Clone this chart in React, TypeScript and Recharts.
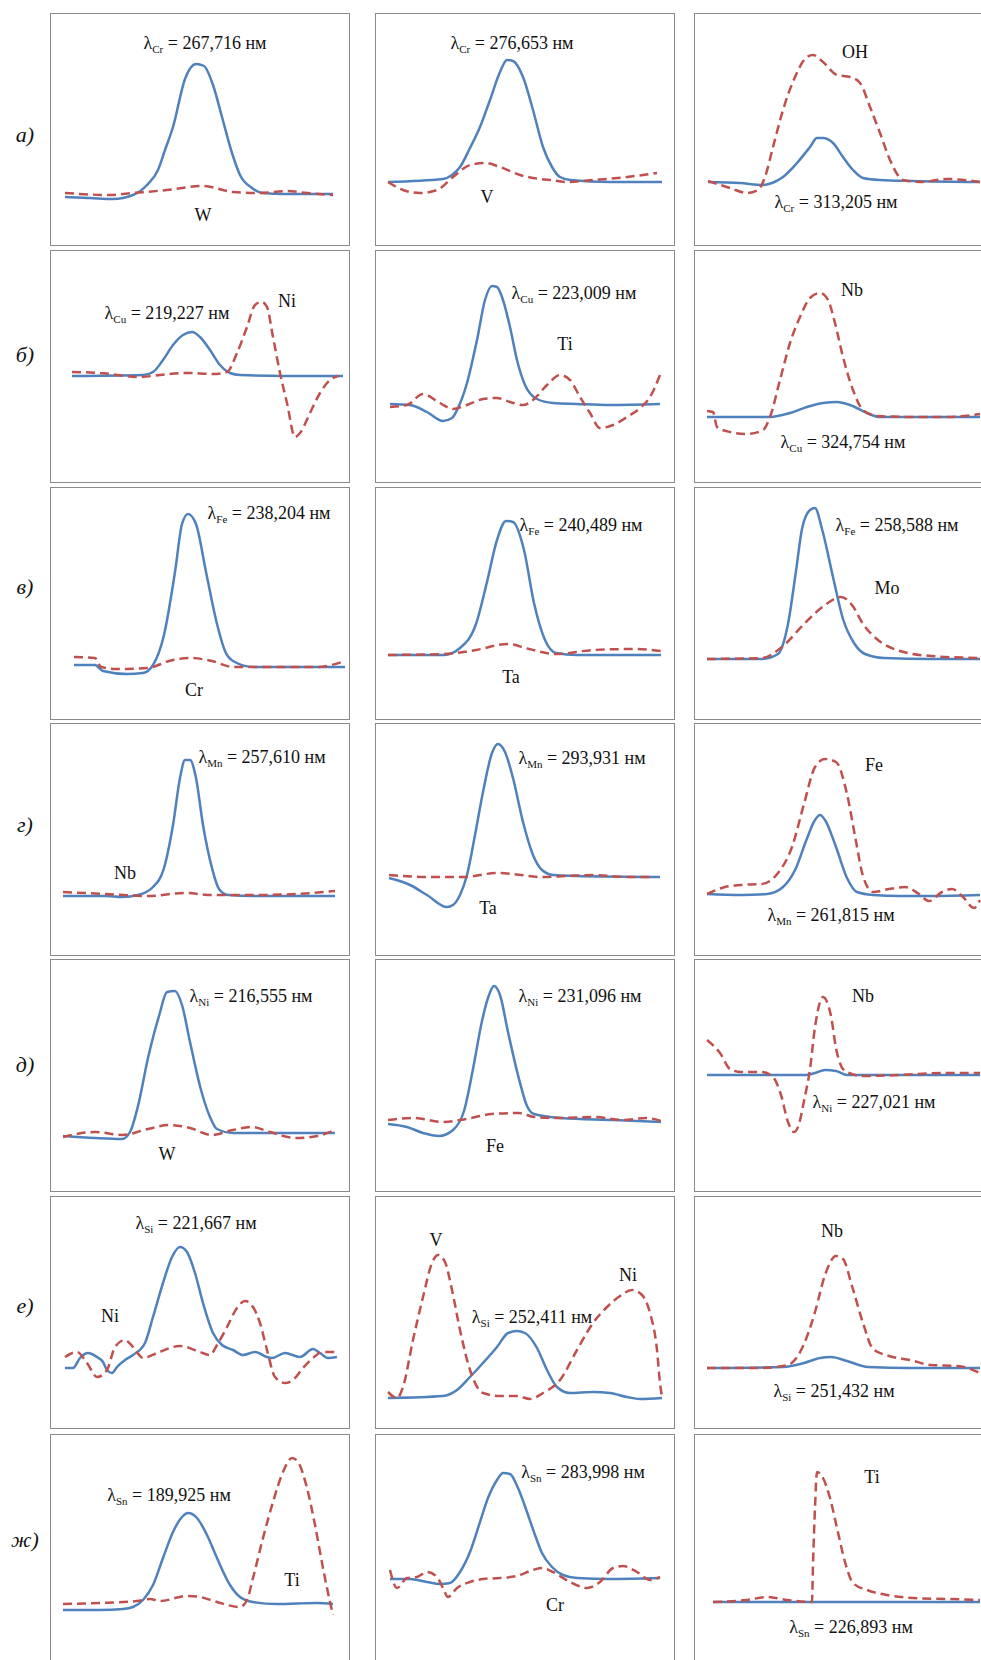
import React from 'react';
import { LineChart, Line, XAxis, YAxis } from 'recharts';

type Pt = [number, number];

// x = position along the scan window, y = signal relative to baseline
// а)
const a1Blue: Pt[] = [[15,-3],[40,-4],[63,-5],[83,-1],[97,9],[108,24],[115,44],[123,67],[135,115],[146,130],[154,128],[163,109],[172,77],[182,41],[190,19],[202,6],[213,1],[233,0],[283,0]];
const a1Red: Pt[] = [[15,1],[60,-1],[83,1],[117,4],[153,8],[183,2],[210,1],[237,3],[257,1],[283,-1]];
const a2Blue: Pt[] = [[13,0],[68,3],[77,7],[85,15],[95,34],[105,55],[115,82],[125,110],[132,122],[138,121],[148,105],[158,72],[168,35],[177,15],[185,5],[195,2],[235,0],[287,0]];
const a2Red: Pt[] = [[13,0],[28,-8],[45,-11],[62,-8],[78,5],[95,17],[110,19],[125,15],[145,7],[158,4],[175,2],[192,0],[218,2],[252,5],[282,9]];
const a3Blue: Pt[] = [[14,0],[46,-1],[69,-3],[78,-1],[89,5],[103,19],[116,35],[123,44],[129,44],[139,39],[149,25],[159,12],[169,4],[186,2],[219,1],[286,0]];
const a3Red: Pt[] = [[14,1],[36,-6],[53,-11],[64,-8],[71,5],[79,35],[89,72],[101,105],[113,125],[119,127],[129,120],[143,107],[156,105],[166,99],[176,75],[186,49],[196,22],[209,2],[226,0],[253,3],[286,0]];
// б)
const b1Blue: Pt[] = [[22,0],[93,1],[103,4],[113,16],[123,31],[133,41],[142,44],[150,39],[160,26],[170,11],[180,3],[190,1],[233,0],[293,0]];
const b1Red: Pt[] = [[22,4],[50,3],[90,-1],[110,1],[137,3],[163,2],[177,4],[187,23],[197,49],[205,71],[212,74],[217,69],[223,39],[230,3],[237,-27],[245,-61],[250,-57],[260,-37],[270,-17],[280,-4],[288,0]];
const b2Blue: Pt[] = [[15,0],[35,-1],[52,-8],[68,-17],[77,-14],[83,-4],[92,21],[102,64],[110,104],[117,118],[122,117],[128,104],[135,77],[142,44],[150,19],[162,5],[178,1],[202,0],[235,-1],[285,0]];
const b2Red: Pt[] = [[15,-3],[32,-1],[48,10],[65,1],[78,-5],[92,-1],[108,5],[122,6],[135,2],[148,-1],[158,4],[172,19],[185,29],[195,24],[205,7],[215,-9],[225,-24],[238,-21],[252,-13],[265,-4],[275,7],[285,29]];
const b3Blue: Pt[] = [[13,0],[76,0],[96,4],[113,10],[129,14],[143,15],[156,12],[173,4],[186,0],[219,0],[286,0]];
const b3Red: Pt[] = [[13,6],[19,5],[23,-10],[36,-15],[53,-17],[69,-13],[76,0],[86,37],[96,74],[106,100],[116,119],[126,124],[134,117],[141,94],[149,60],[159,27],[169,7],[183,1],[219,0],[253,0],[286,3]];
// в)
const v1Blue: Pt[] = [[24,2],[45,2],[53,-4],[77,-7],[93,-6],[103,2],[114,32],[125,95],[132,143],[138,153],[146,143],[156,95],[167,43],[175,16],[183,6],[204,0],[246,0],[295,0]];
const v1Red: Pt[] = [[24,10],[45,9],[51,0],[66,-2],[98,-1],[119,6],[140,9],[162,6],[183,0],[225,0],[267,0],[295,6]];
const v2Blue: Pt[] = [[13,0],[69,0],[85,7],[101,31],[112,73],[122,115],[131,134],[138,133],[149,105],[159,52],[170,15],[181,2],[202,0],[286,0]];
const v2Red: Pt[] = [[13,0],[69,1],[101,5],[133,11],[154,6],[181,1],[218,5],[260,6],[286,4]];
const v3Blue: Pt[] = [[13,0],[68,0],[84,5],[94,35],[102,88],[108,130],[116,149],[121,151],[128,130],[139,82],[149,40],[160,16],[171,5],[190,1],[237,0],[286,0]];
const v3Red: Pt[] = [[13,0],[68,1],[89,13],[110,35],[131,54],[147,62],[158,54],[169,35],[184,19],[206,8],[237,3],[286,1]];
// г)
const g1Blue: Pt[] = [[13,0],[56,0],[72,-1],[88,1],[103,9],[114,28],[123,71],[130,118],[135,136],[140,136],[146,118],[153,71],[162,28],[169,7],[178,1],[204,0],[285,0]];
const g1Red: Pt[] = [[13,4],[56,2],[98,0],[135,3],[162,1],[204,1],[246,2],[285,5]];
const g2Blue: Pt[] = [[14,-1],[35,-8],[52,-18],[72,-30],[78,-28],[85,-18],[92,2],[100,42],[108,85],[117,124],[123,133],[130,125],[138,99],[148,55],[158,22],[167,7],[178,2],[202,1],[285,0]];
const g2Red: Pt[] = [[14,2],[52,0],[88,0],[122,4],[138,3],[165,0],[192,1],[218,2],[252,0],[278,0]];
const g3Blue: Pt[] = [[13,1],[47,0],[73,1],[89,8],[102,27],[112,54],[121,75],[126,80],[131,75],[142,48],[153,17],[163,3],[179,0],[206,-1],[237,-1],[286,0]];
const g3Red: Pt[] = [[13,1],[31,8],[47,10],[68,11],[84,22],[98,48],[110,91],[121,128],[131,136],[142,133],[153,101],[161,59],[169,19],[179,3],[195,6],[211,8],[225,1],[235,-6],[248,3],[258,6],[269,-2],[280,-13],[286,-5]];
// д)
const d1Blue: Pt[] = [[13,-3],[45,-5],[72,-6],[80,1],[88,27],[98,75],[109,117],[117,141],[125,142],[132,128],[140,91],[151,43],[160,16],[167,4],[183,0],[225,0],[285,0]];
const d1Red: Pt[] = [[13,-4],[45,1],[72,-2],[98,4],[119,8],[140,5],[162,-2],[183,3],[202,6],[220,1],[246,-5],[267,-3],[285,3]];
const d2Blue: Pt[] = [[13,-4],[32,-7],[48,-13],[64,-16],[78,-10],[89,9],[98,51],[107,99],[114,125],[119,134],[125,125],[133,88],[144,41],[152,14],[159,6],[186,2],[239,0],[286,-2]];
const d2Red: Pt[] = [[13,0],[38,2],[69,-2],[91,1],[117,6],[144,7],[159,3],[186,2],[218,3],[249,0],[271,2],[286,-1]];
const d3Blue: Pt[] = [[13,0],[110,0],[121,2],[131,5],[142,4],[153,0],[286,0]];
const d3Red: Pt[] = [[13,35],[26,22],[36,6],[47,3],[68,3],[79,-2],[87,-20],[94,-47],[100,-57],[105,-49],[110,-26],[116,6],[121,48],[129,78],[137,59],[142,27],[151,4],[169,-1],[206,0],[248,2],[286,2]];
// е)
const e1Blue: Pt[] = [[15,-8],[23,-8],[30,2],[38,7],[47,3],[53,-2],[57,-10],[62,-13],[67,-7],[75,0],[83,5],[95,17],[103,43],[113,77],[122,103],[130,113],[137,108],[145,87],[153,57],[163,27],[172,15],[183,10],[193,5],[205,8],[217,3],[222,2],[235,7],[250,3],[263,11],[270,7],[278,2],[287,3]];
const e1Red: Pt[] = [[15,3],[27,8],[37,-3],[47,-17],[57,-10],[65,13],[75,20],[83,13],[93,2],[107,7],[130,14],[150,8],[160,5],[167,15],[177,33],[187,52],[195,59],[203,53],[210,37],[217,10],[225,-17],[235,-23],[243,-20],[253,-8],[263,2],[272,8],[285,8]];
const e2Blue: Pt[] = [[13,0],[68,2],[82,8],[95,21],[108,35],[122,51],[133,65],[142,67],[150,65],[162,50],[172,28],[182,11],[195,5],[218,6],[235,5],[252,1],[265,-1],[287,0]];
const e2Red: Pt[] = [[13,6],[22,0],[28,11],[38,58],[48,101],[57,135],[63,143],[70,136],[77,108],[85,68],[95,28],[108,5],[125,2],[142,2],[155,-1],[168,5],[185,18],[202,48],[218,75],[232,91],[245,102],[257,108],[267,103],[275,85],[282,48],[285,15],[287,1]];
const e3Blue: Pt[] = [[13,0],[89,1],[110,5],[126,10],[137,11],[153,7],[174,1],[216,0],[286,0]];
const e3Red: Pt[] = [[13,0],[68,0],[94,3],[110,24],[121,56],[131,93],[142,112],[149,109],[158,82],[169,45],[179,19],[195,12],[216,8],[237,3],[264,2],[286,-5]];
// ж)
const z1Blue: Pt[] = [[13,-6],[50,-6],[73,-5],[83,-3],[93,4],[103,19],[113,46],[123,72],[132,87],[138,91],[147,86],[157,69],[167,46],[180,19],[190,7],[203,2],[227,0],[267,1],[283,0]];
const z1Red: Pt[] = [[13,0],[50,1],[87,3],[100,5],[110,3],[137,8],[150,7],[167,2],[190,-3],[197,4],[203,26],[213,66],[223,102],[233,132],[242,146],[248,142],[257,116],[265,79],[273,36],[280,2],[283,-11]];
const z2Blue: Pt[] = [[15,0],[35,0],[52,-3],[65,-5],[75,-4],[85,7],[95,27],[105,57],[113,81],[122,99],[128,106],[135,105],[143,91],[152,67],[160,44],[167,26],[177,12],[188,4],[202,1],[235,0],[285,1]];
const z2Red: Pt[] = [[15,9],[22,-9],[32,1],[42,2],[52,7],[62,2],[68,-9],[73,-18],[82,-9],[95,-3],[108,0],[125,1],[142,3],[158,9],[167,11],[178,7],[195,-3],[212,-9],[225,-3],[238,11],[248,13],[262,7],[275,-1],[285,2]];
const z3Blue: Pt[] = [[19,0],[150,0],[286,0]];
const z3Red: Pt[] = [[19,0],[53,2],[73,5],[93,2],[118,0],[119,37],[121,94],[123,130],[129,124],[136,104],[143,74],[151,40],[159,19],[173,12],[193,7],[219,4],[253,3],[286,2]];

const rowNames = ['а)', 'б)', 'в)', 'г)', 'д)', 'е)', 'ж)'];

type Lbl = { el?: string; val?: string; text?: string; x: number; y: number };
type PanelDef = { col: number; row: number; base: number; blue: Pt[]; red: Pt[]; labels: Lbl[] };

const panels: PanelDef[] = [
  { col: 0, row: 0, base: 181, blue: a1Blue, red: a1Red, labels: [{ el: 'Cr', val: '267,716', x: 155, y: 30 }, { text: 'W', x: 153, y: 202 }] },
  { col: 1, row: 0, base: 169, blue: a2Blue, red: a2Red, labels: [{ el: 'Cr', val: '276,653', x: 137, y: 30 }, { text: 'V', x: 112, y: 184 }] },
  { col: 2, row: 0, base: 169, blue: a3Blue, red: a3Red, labels: [{ text: 'OH', x: 161, y: 39 }, { el: 'Cr', val: '313,205', x: 142, y: 189 }] },
  { col: 0, row: 1, base: 126, blue: b1Blue, red: b1Red, labels: [{ el: 'Cu', val: '219,227', x: 117, y: 63 }, { text: 'Ni', x: 237, y: 51 }] },
  { col: 1, row: 1, base: 154, blue: b2Blue, red: b2Red, labels: [{ el: 'Cu', val: '223,009', x: 199, y: 43 }, { text: 'Ti', x: 190, y: 94 }] },
  { col: 2, row: 1, base: 167, blue: b3Blue, red: b3Red, labels: [{ text: 'Nb', x: 158, y: 40 }, { el: 'Cu', val: '324,754', x: 149, y: 192 }] },
  { col: 0, row: 2, base: 180, blue: v1Blue, red: v1Red, labels: [{ el: 'Fe', val: '238,204', x: 219, y: 26 }, { text: 'Cr', x: 144, y: 203 }] },
  { col: 1, row: 2, base: 168, blue: v2Blue, red: v2Red, labels: [{ el: 'Fe', val: '240,489', x: 206, y: 38 }, { text: 'Ta', x: 136, y: 190 }] },
  { col: 2, row: 2, base: 172, blue: v3Blue, red: v3Red, labels: [{ el: 'Fe', val: '258,588', x: 203, y: 38 }, { text: 'Mo', x: 193, y: 101 }] },
  { col: 0, row: 3, base: 173, blue: g1Blue, red: g1Red, labels: [{ el: 'Mn', val: '257,610', x: 212, y: 34 }, { text: 'Nb', x: 75, y: 150 }] },
  { col: 1, row: 3, base: 154, blue: g2Blue, red: g2Red, labels: [{ el: 'Mn', val: '293,931', x: 207, y: 35 }, { text: 'Ta', x: 113, y: 185 }] },
  { col: 2, row: 3, base: 172, blue: g3Blue, red: g3Red, labels: [{ text: 'Fe', x: 180, y: 42 }, { el: 'Mn', val: '261,815', x: 137, y: 192 }] },
  { col: 0, row: 4, base: 174, blue: d1Blue, red: d1Red, labels: [{ el: 'Ni', val: '216,555', x: 201, y: 37 }, { text: 'W', x: 117, y: 195 }] },
  { col: 1, row: 4, base: 161, blue: d2Blue, red: d2Red, labels: [{ el: 'Ni', val: '231,096', x: 205, y: 37 }, { text: 'Fe', x: 120, y: 187 }] },
  { col: 2, row: 4, base: 116, blue: d3Blue, red: d3Red, labels: [{ text: 'Nb', x: 169, y: 37 }, { el: 'Ni', val: '227,021', x: 180, y: 143 }] },
  { col: 0, row: 5, base: 164, blue: e1Blue, red: e1Red, labels: [{ el: 'Si', val: '221,667', x: 146, y: 27 }, { text: 'Ni', x: 60, y: 120 }] },
  { col: 1, row: 5, base: 202, blue: e2Blue, red: e2Red, labels: [{ text: 'V', x: 61, y: 44 }, { text: 'Ni', x: 253, y: 79 }, { el: 'Si', val: '252,411', x: 157, y: 121 }] },
  { col: 2, row: 5, base: 172, blue: e3Blue, red: e3Red, labels: [{ text: 'Nb', x: 138, y: 35 }, { el: 'Si', val: '251,432', x: 140, y: 195 }] },
  { col: 0, row: 6, base: 170, blue: z1Blue, red: z1Red, labels: [{ el: 'Sn', val: '189,925', x: 119, y: 61 }, { text: 'Ti', x: 242, y: 146 }] },
  { col: 1, row: 6, base: 145, blue: z2Blue, red: z2Red, labels: [{ el: 'Sn', val: '283,998', x: 208, y: 38 }, { text: 'Cr', x: 180, y: 171 }] },
  { col: 2, row: 6, base: 168, blue: z3Blue, red: z3Red, labels: [{ text: 'Ti', x: 178, y: 43 }, { el: 'Sn', val: '226,893', x: 157, y: 193 }] },
];

const COL_X = [50, 375, 694];
const ROW_Y = [13, 250, 487, 723, 959, 1196, 1434];
const ROW_LABEL_Y = [135, 355, 587, 825, 1065, 1306, 1540];
const W = 300;
const H = 233;
const BLUE = '#4F81BD';
const RED = '#C0504D';
const SERIF = '"Liberation Serif", "Times New Roman", serif';

const toRows = (pts: Pt[]) => pts.map(([x, y]) => ({ x, y }));

function Label({ l }: { l: Lbl }) {
  const style: React.CSSProperties = {
    position: 'absolute', left: l.x, top: l.y, transform: 'translate(-50%, -50%)',
    whiteSpace: 'nowrap', fontFamily: SERIF, fontSize: 18, lineHeight: 1, color: '#111',
  };
  if (l.text) return <div style={style}>{l.text}</div>;
  return (
    <div style={style}>
      λ<span style={{ fontSize: 11, position: 'relative', top: 4 }}>{l.el}</span> = {l.val} нм
    </div>
  );
}

function Panel({ p }: { p: PanelDef }) {
  return (
    <div style={{ position: 'absolute', left: COL_X[p.col], top: ROW_Y[p.row], width: W, height: H, boxSizing: 'border-box', border: '1px solid #8a8a8a', background: '#fff' }}>
      <div style={{ position: 'absolute', left: -1, top: -1, width: W, height: H }}>
        <LineChart width={W} height={H} margin={{ top: 0, right: 0, bottom: 0, left: 0 }}>
          <XAxis type="number" dataKey="x" domain={[0, W]} hide allowDataOverflow />
          <YAxis type="number" dataKey="y" domain={[p.base - H, p.base]} hide allowDataOverflow />
          <Line data={toRows(p.blue)} dataKey="y" type="monotone" stroke={BLUE} strokeWidth={2.5} dot={false} activeDot={false} isAnimationActive={false} />
          <Line data={toRows(p.red)} dataKey="y" type="monotone" stroke={RED} strokeWidth={2.5} strokeDasharray="9 5" dot={false} activeDot={false} isAnimationActive={false} />
        </LineChart>
        {p.labels.map((l, i) => <Label key={i} l={l} />)}
      </div>
    </div>
  );
}

export default function App() {
  return (
    <div style={{ position: 'absolute', left: 0, top: 0, width: 981, height: 1660, overflow: 'hidden', background: '#fff' }}>
      {rowNames.map((n, i) => (
        <div key={n} style={{ position: 'absolute', left: 25, top: ROW_LABEL_Y[i], transform: 'translate(-50%, -50%)', fontFamily: SERIF, fontStyle: 'italic', fontSize: 22, lineHeight: 1, color: '#111' }}>{n}</div>
      ))}
      {panels.map((p, i) => <Panel key={i} p={p} />)}
    </div>
  );
}
